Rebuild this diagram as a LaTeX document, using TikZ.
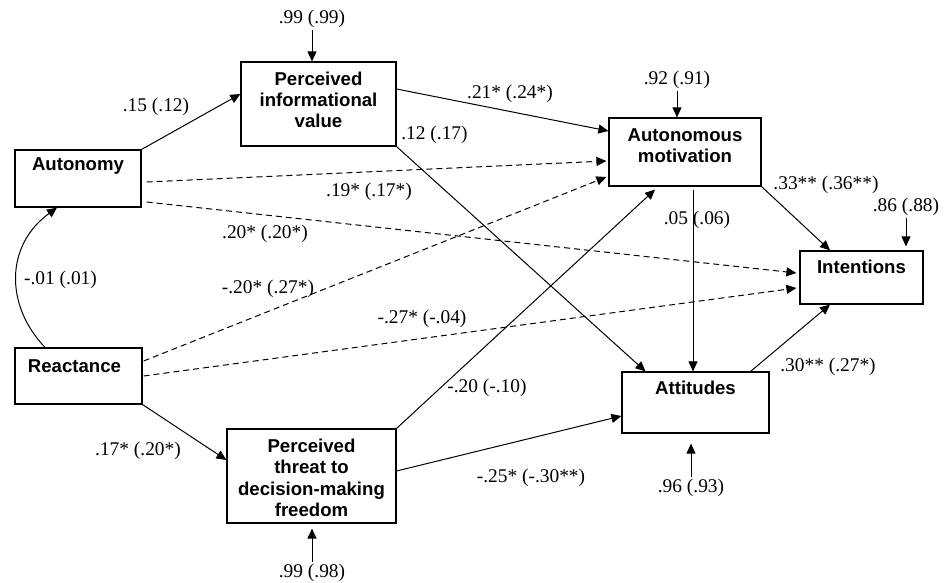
\documentclass[tikz,border=0pt]{standalone}
\usepackage{fontspec}
\setmainfont{Liberation Serif}
\setsansfont{Liberation Sans}
\usetikzlibrary{arrows.meta}
\tikzset{
 var/.style={draw,line width=.6pt,inner sep=0pt},
 vartext/.style={font=\sffamily\bfseries\fontsize{9.3}{10.6}\selectfont,align=center,inner sep=0pt},
 coef/.style={font=\rmfamily\mdseries\fontsize{9.7}{11}\selectfont,inner sep=1pt},
 effect/.style={line width=.5pt,-{Triangle[length=5pt,width=4.5pt]}},
 dashedeffect/.style={effect,dash pattern=on 3pt off 2pt}
}
\begin{document}
\begin{tikzpicture}[x=.5pt,y=-.5pt]
\useasboundingbox (0,0) rectangle (950,583);
\node[var,minimum width=63pt,minimum height=28.5pt,label={[vartext,yshift=6.25pt]center:Autonomy}] (aut) at (78,178.5) {};
\node[var,minimum width=63.5pt,minimum height=28pt,label={[vartext,xshift=-2pt,yshift=5pt]center:Reactance}] (rea) at (78.5,376) {};
\node[var,minimum width=77.5pt,minimum height=42pt,label={[vartext,yshift=2pt]center:Perceived\\informational\\value}] (piv) at (318.5,104) {};
\node[var,minimum width=84.5pt,minimum height=47pt,label={[vartext,yshift=-.9pt]center:Perceived\\threat to\\decision-making\\freedom}] (pt) at (311.5,476) {};
\node[var,minimum width=76pt,minimum height=34pt,label={[vartext,yshift=3.25pt]center:Autonomous\\motivation}] (am) at (685,152) {};
\node[var,minimum width=61.5pt,minimum height=26.5pt,label={[vartext,yshift=5.4pt]center:Intentions}] (int) at (861.5,277.5) {};
\node[var,minimum width=73.5pt,minimum height=30.5pt,label={[vartext,yshift=7.1pt]center:Attitudes}] (att) at (695.5,402.5) {};

\draw[effect] (aut.north east) -- ([yshift=5pt]piv.west);
\draw[effect] ([yshift=7.5pt]piv.east) -- ([yshift=10.5pt]am.west);
\draw[effect] (piv.south east) -- ([xshift=-25pt]att.north);
\draw[dashedeffect] ([xshift=2.5pt,yshift=-1.75pt]aut.east) -- ([xshift=-1pt,yshift=-4.5pt]am.west);
\draw[dashedeffect] ([xshift=2.5pt,yshift=-11.75pt]aut.east) -- ([xshift=-1.5pt,yshift=2.25pt]int.west);
\draw[dashedeffect] ([xshift=.5pt,yshift=7.5pt]rea.east) -- ([xshift=-1pt,yshift=-12.5pt]am.west);
\draw[dashedeffect] ([xshift=.5pt]rea.east) -- ([xshift=-1.5pt,yshift=-5.25pt]int.west);
\draw[effect] (rea.south east) -- ([yshift=8pt]pt.west);
\draw[effect] (pt.north east) -- ([xshift=-15pt,yshift=-1.5pt]am.south);
\draw[effect] ([yshift=2.5pt]pt.east) -- ([yshift=-6.75pt]att.west);
\draw[effect] ([xshift=4pt,yshift=-1.5pt]am.south) -- ([xshift=-1.25pt]att.north);
\draw[effect] (am.south east) -- ([xshift=-15.75pt]int.north);
\draw[effect] ([xshift=-9.5pt]att.north east) -- ([xshift=-15.75pt]int.south);
\draw[effect,{Triangle[length=5pt,width=4.5pt]}-] ([xshift=-10.5pt]aut.south) .. controls +(-52,38) and +(-40,-42) .. ([xshift=-16.75pt]rea.north);

\node[coef] (c1) at (156,107) {.15 (.12)};
\node[coef] (c2) at (510,94) {.21* (.24*)};
\node[coef] (c3) at (434.5,135) {.12 (.17)};
\node[coef] (c4) at (369,192) {.19* (.17*)};
\node[coef] (c5) at (265,234) {.20* (.20*)};
\node[coef] (c6) at (60.5,280) {-.01 (.01)};
\node[coef] (c7) at (268,289) {-.20* (.27*)};
\node[coef] (c8) at (422,319) {-.27* (-.04)};
\node[coef] (c9) at (138,451) {.17* (.20*)};
\node[coef] (c10) at (487,388) {-.20 (-.10)};
\node[coef] (c11) at (531,478) {-.25* (-.30**)};
\node[coef] (c12) at (697,220) {.05 (.06)};
\node[coef] (c13) at (826,185) {.33** (.36**)};
\node[coef] (c14) at (828,367) {.30** (.27*)};

\node[coef] (r1) at (312,19) {.99 (.99)};
\node[coef] (r2) at (677,80) {.92 (.91)};
\node[coef] (r3) at (906,207) {.86 (.88)};
\node[coef] (r4) at (691,488) {.96 (.93)};
\node[coef] (r5) at (312,573) {.99 (.98)};
\draw[effect] (r1) -- (r1 |- piv.north);
\draw[effect] (r2) -- (r2 |- am.north);
\draw[effect,shorten >=2pt] (r3) -- (r3 |- int.north);
\draw[effect,shorten >=5pt] (r4) -- (r4 |- att.south);
\draw[effect,shorten >=2.5pt] (r5) -- (r5 |- pt.south);
\end{tikzpicture}
\end{document}
